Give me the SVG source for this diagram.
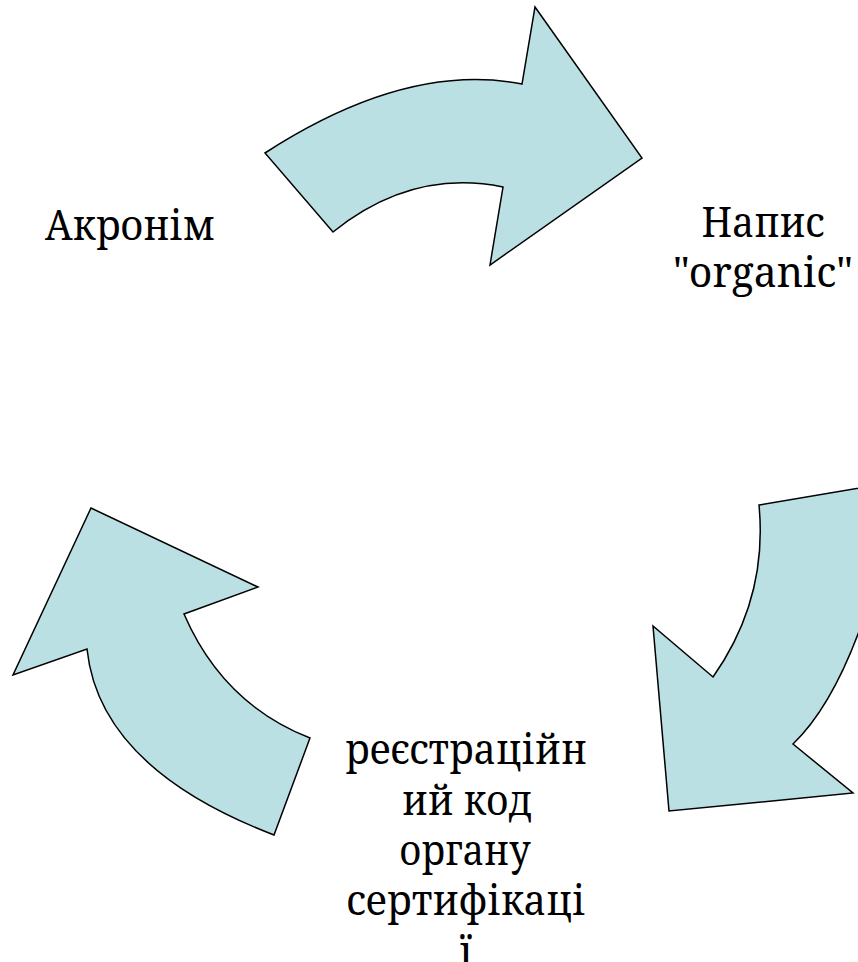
<svg xmlns="http://www.w3.org/2000/svg" width="858" height="962" viewBox="0 0 858 962">
<style>
.arrow{fill:#BBE0E3;stroke:#000;stroke-width:1.5;stroke-linejoin:miter}
.lbl{font-family:"Noto Serif","Liberation Serif","Times New Roman",serif;font-size:42px;fill:#000;text-anchor:middle}
</style>
<rect width="858" height="962" fill="#fff"/>
<g id="connectors">
<path id="arrow-top" class="arrow" d="M265,153 Q406.5,61.5 522,84 L535,7 L642,158 L490,265 L503,187 Q412,168.5 333,232 Z"/>
<path id="arrow-right" class="arrow" d="M759,505 L900,481 Q860,680 793,744 L853,793 L669,811 L653,626 L713,677 Q768,599 759,505 Z"/>
<path id="arrow-left" class="arrow" d="M91,508 L258,587 L184,614 Q223,704 310,738 L274,835 Q99.5,768 87,649 L13,675 Z"/>
</g>
<g id="node-acronym"><text class="lbl" x="130" y="240" textLength="170" lengthAdjust="spacingAndGlyphs">Акронім</text></g>
<g id="node-napys"><text class="lbl" x="763" y="237" textLength="123" lengthAdjust="spacingAndGlyphs">Напис</text><text class="lbl" x="763" y="287" textLength="180" lengthAdjust="spacingAndGlyphs">"organic"</text></g>
<g id="node-code"><text class="lbl" x="466" y="764" textLength="242" lengthAdjust="spacingAndGlyphs">реєстраційн</text><text class="lbl" x="467" y="815" textLength="130" lengthAdjust="spacingAndGlyphs">ий код</text><text class="lbl" x="465" y="865" textLength="131" lengthAdjust="spacingAndGlyphs">органу</text><text class="lbl" x="466" y="915" textLength="239" lengthAdjust="spacingAndGlyphs">сертифікаці</text><text class="lbl" x="466" y="966">ї</text></g>
</svg>
